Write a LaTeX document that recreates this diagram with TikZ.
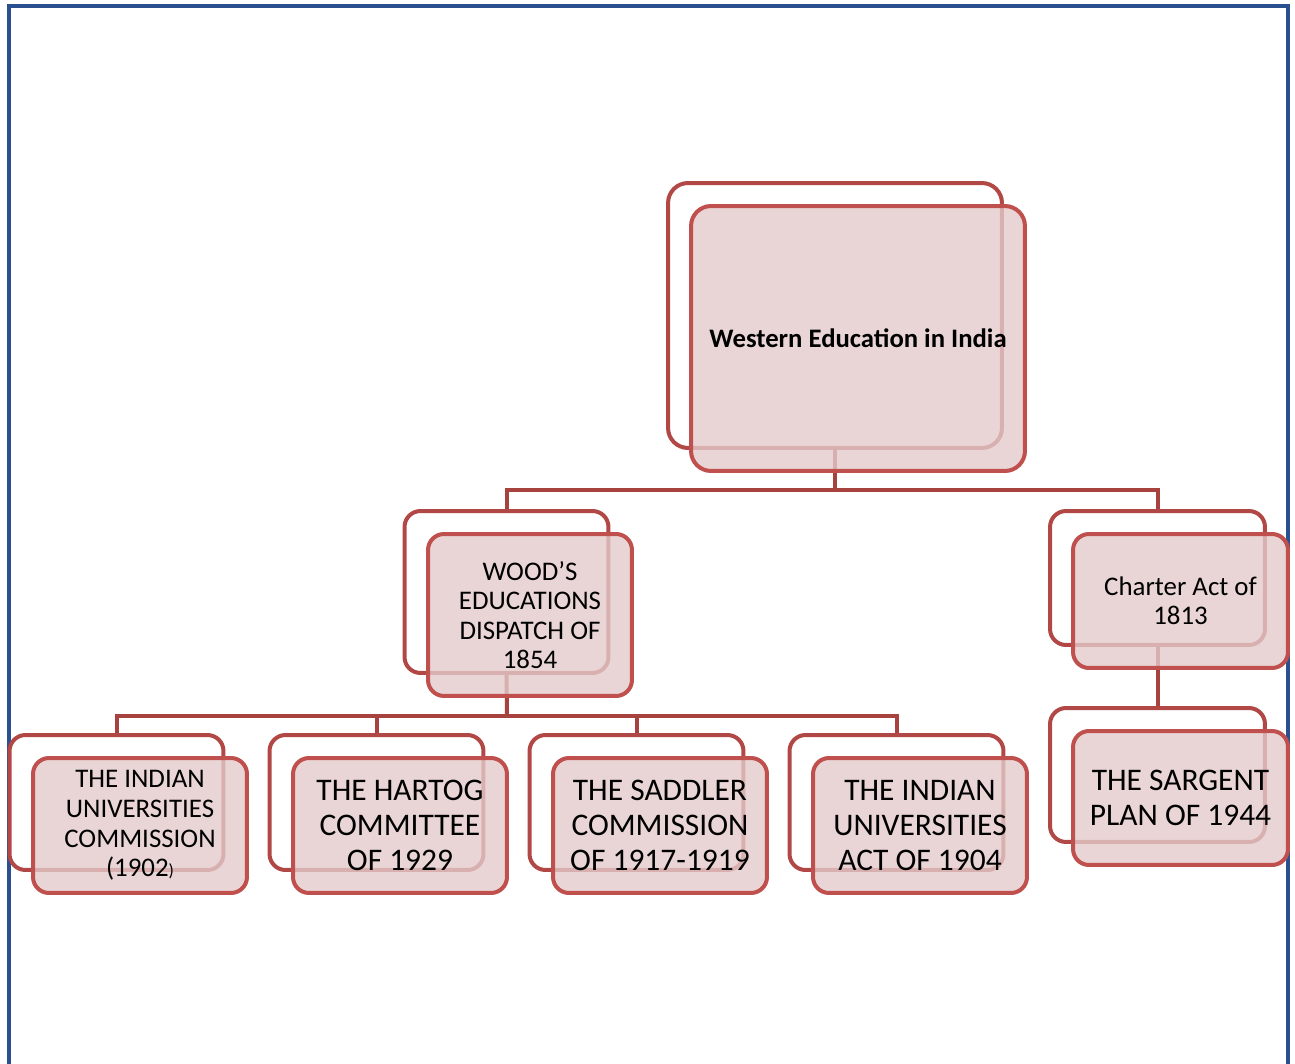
\documentclass[tikz,border=0pt]{standalone}
\usepackage{fontspec}
\setmainfont{Carlito}
\usepackage{tikz}
\usetikzlibrary{positioning}

\definecolor{frontred}{HTML}{C0504D}
\definecolor{backred}{HTML}{B14845}
\definecolor{linkred}{HTML}{A8423F}
\definecolor{boxfill}{HTML}{E4CBCB}
\definecolor{pageblue}{HTML}{2B5090}

\tikzset{
	backbox/.style={draw=backred, line width=0.08cm, rounded corners=0.32cm, inner sep=0pt},
	frontbox/.style={draw=frontred, line width=0.08cm, rounded corners=0.32cm, fill=boxfill, fill opacity=0.8, text opacity=1, inner sep=0pt, align=center},
	rootsize/.style={minimum width=6.68cm, minimum height=5.3cm, rounded corners=0.4cm},
	midsize/.style={minimum width=4.08cm, minimum height=3.24cm},
	sidesize/.style={minimum width=4.3cm, minimum height=2.68cm},
	leafsize/.style={minimum width=4.28cm, minimum height=2.7cm},
	link/.style={draw=linkred, line width=0.08cm},
	smalltext/.style={font=\fontsize{15.3}{16.8}\selectfont},
	bigtext/.style={font=\fontsize{17.9}{19.8}\selectfont}
}

\begin{document}
\begin{tikzpicture}[x=0.02cm, y=-0.02cm]
		\useasboundingbox (0,0) rectangle (1295,1064);
		\draw[pageblue, line width=0.07cm] (9,1064) -- (9,6) -- (1288,6) -- (1288,1064);

		% back frames
		\node[backbox, rootsize] (rootB) at (835,315.5) {};
		\node[backbox, midsize] (woodB) at (506.5,592) {};
		\node[backbox, sidesize] (charterB) at (1157.5,578) {};
		\node[backbox, sidesize] (sargentB) at (1157.5,775) {};
		\node[backbox, leafsize] (iucB) at (116.5,802.5) {};
		\node[backbox, leafsize] (hartogB) at (376.5,802.5) {};
		\node[backbox, leafsize] (saddlerB) at (636.5,802.5) {};
		\node[backbox, leafsize] (iuaB) at (896.5,802.5) {};

		% connectors
		\coordinate (busA) at (835,490);
		\coordinate (busB) at (507,716);
		\draw[link] (rootB.south) -- (busA);
		\draw[link] (woodB.north) |- (busA) -| (charterB.north);
		\draw[link] (charterB.south) -- (sargentB.north);
		\draw[link] (woodB.south) -- (busB);
		\draw[link] (iucB.north) |- (busB) -| (iuaB.north);
		\draw[link] (hartogB.north) -- (hartogB.north |- busB);
		\draw[link] (saddlerB.north) -- (saddlerB.north |- busB);

		% front boxes
		\node[frontbox, rootsize, font=\bfseries\fontsize{15.2}{17}\selectfont] (root) at (858,338.5) {Western Education in India};
		\node[frontbox, midsize, smalltext] (wood) at (530,615) {WOOD’S\\EDUCATIONS\\DISPATCH OF\\1854};
		\node[frontbox, sidesize, smalltext] (charter) at (1180.5,601) {Charter Act of\\1813};
		\node[frontbox, sidesize, bigtext] (sargent) at (1180.5,798) {THE SARGENT\\PLAN OF 1944};
		\node[frontbox, leafsize, smalltext] (iuc) at (140,825.5) {THE INDIAN\\UNIVERSITIES\\COMMISSION\\(1902{\fontsize{10}{11}\selectfont)}};
		\node[frontbox, leafsize, bigtext] (hartog) at (400,825.5) {THE HARTOG\\COMMITTEE\\OF 1929};
		\node[frontbox, leafsize, bigtext] (saddler) at (660,825.5) {THE SADDLER\\COMMISSION\\OF 1917-1919};
		\node[frontbox, leafsize, bigtext] (iua) at (920,825.5) {THE INDIAN\\UNIVERSITIES\\ACT OF 1904};
	\end{tikzpicture}
\end{document}
